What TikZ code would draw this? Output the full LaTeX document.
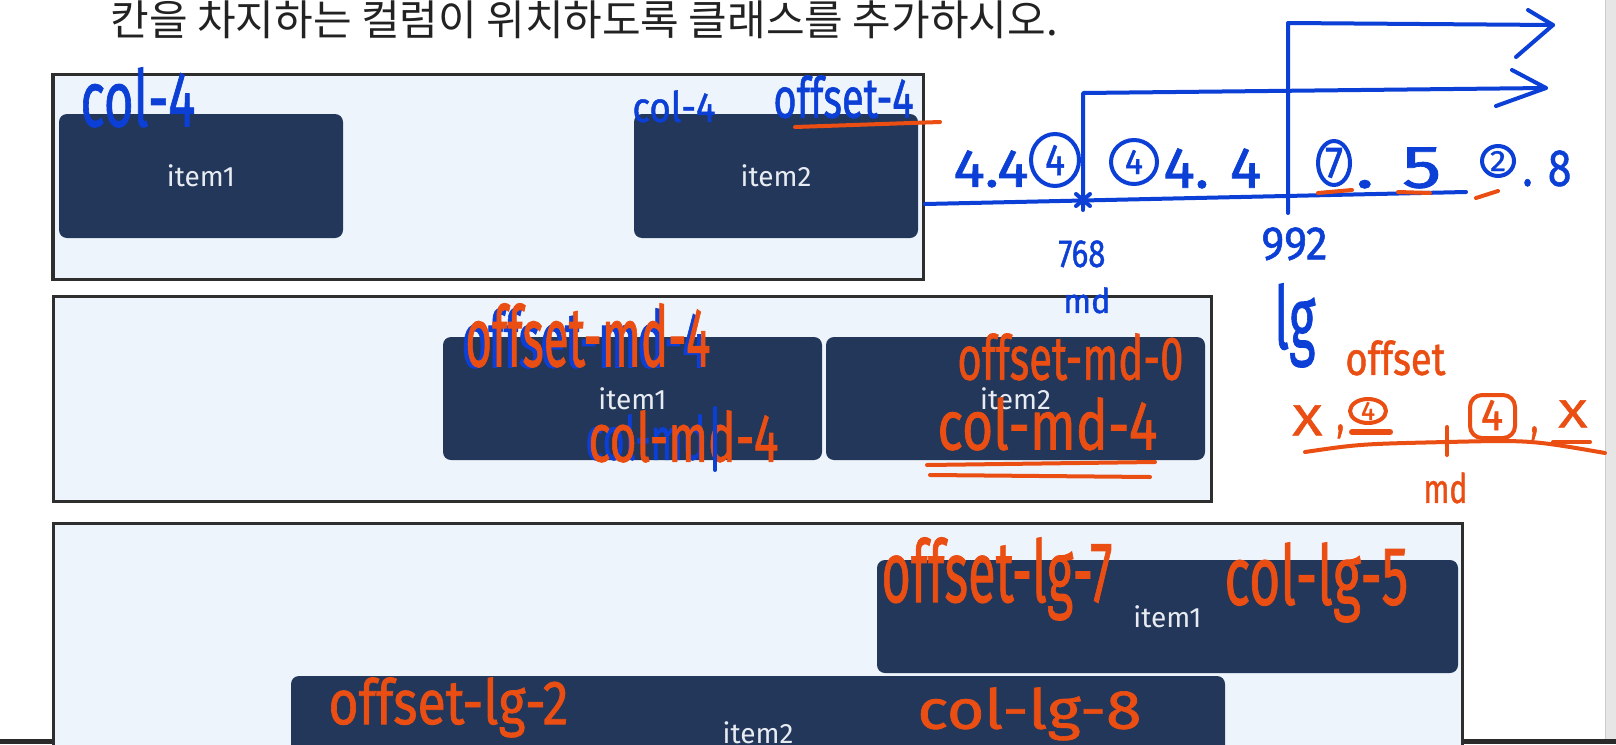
\documentclass[tikz,border=0pt]{standalone}
\usepackage{fontspec}
\setmainfont{Fira Sans}
\newfontfamily\krfont{Noto Sans CJK KR}
\newfontfamily\hwfont{Fira Sans}[FakeBold=1.2]
\usetikzlibrary{calc}
\definecolor{contbg}{HTML}{EDF4FC}
\definecolor{framec}{HTML}{2E2E2E}
\definecolor{itemc}{HTML}{22375A}
\definecolor{itemtxt}{HTML}{E8ECF2}
\definecolor{inkblue}{HTML}{0B3FD6}
\definecolor{inkor}{HTML}{EA4E12}
\definecolor{barc}{HTML}{2A2A2A}
\definecolor{thumbc}{HTML}{4A4A4A}
\definecolor{scrollc}{HTML}{E6E6E6}
\definecolor{titlec}{HTML}{222222}
\newcommand{\hwt}[3]{\resizebox*{\dimexpr #1pt/2\relax}{\dimexpr #2pt/2\relax}{\hwfont #3}}
\tikzset{
  container/.style={draw=framec, line width=1.5pt, fill=contbg, inner sep=0pt},
  itembox/.style={fill=itemc, rounded corners=4pt, text=itemtxt, inner sep=0pt,
    font=\fontsize{14pt}{15pt}\selectfont},
  hwb/.style={inner sep=0pt, text=inkblue, anchor=north west},
  hwo/.style={inner sep=0pt, text=inkor, anchor=north west},
  inkb/.style={draw=inkblue, line width=2pt, line cap=round, line join=round},
  inko/.style={draw=inkor, line width=2pt, line cap=round, line join=round},
}
\begin{document}
\begin{tikzpicture}[x=0.5pt,y=-0.5pt]
\useasboundingbox (0,0) rectangle (1616,744);
\clip (0,0) rectangle (1616,744);
\fill[white] (0,0) rectangle (1616,744);
% scrollbar and bottom bar
\fill[scrollc] (1605,0) rectangle (1616,739);
\draw[gray!40, line width=0.5pt] (1605,0) -- (1605,739);
\fill[barc] (0,739) rectangle (1616,744);
\fill[thumbc] (59,739) rectangle (118,744);

% title
\node[anchor=base west, inner sep=0pt, text=titlec,
  font=\krfont\fontsize{21pt}{22pt}\selectfont] (title) at (110,35)
  {칸을 차지하는 컬럼이 위치하도록 클래스를 추가하시오.};

% containers
\node[container, minimum width=435pt, minimum height=102.5pt] (row1) at (488.5,177) {};
\node[container, minimum width=579pt, minimum height=102.5pt] (row2) at (632.5,399) {};
\node[container, minimum width=704.5pt, minimum height=138.5pt] (row3) at (757.5,661.5) {};
\draw[framec, line width=1pt] (row1.north west) -- (row1.south west);

% items
\node[itembox, minimum width=142pt, minimum height=62pt] (r1i1) at (201,176) {item1};
\node[itembox, minimum width=142pt, minimum height=62pt] (r1i2) at (776,176) {item2};
\node[itembox, minimum width=189.5pt, minimum height=61.5pt] (r2i1) at (632.5,398.5) {item1};
\node[itembox, minimum width=189.5pt, minimum height=61.5pt] (r2i2) at (1015.5,398.5) {item2};
\node[itembox, minimum width=290.5pt, minimum height=56.5pt] (r3i1) at (1167.5,616.5) {item1};
\node[itembox, minimum width=467pt, minimum height=56.5pt] (r3i2) at (758,732.5) {item2};

% ---- row 1 annotations
\node[hwb] (a1) at (80,67) {\hwt{115}{60}{col-4}};
\node[hwb] (a2) at (632,90) {\hwt{83}{32}{col-4}};
\node[hwb] (a3) at (773,75) {\hwt{140}{43}{offset-4}};
\coordinate (u1a) at (795,127);
\coordinate (u1b) at (940,122);
\draw[inko] (u1a) -- (u1b);

% ---- breakpoint axis
\coordinate (ax0) at (925,204);
\coordinate (ax1) at (1466,192);
\draw[inkb] (ax0) -- (ax1);
\coordinate (md0) at (1083,208);
\coordinate (md1) at (1083,93);
\coordinate (md2) at (1546,88);
\draw[inkb] (md0) -- (md1) -- (md2);
\coordinate (mh1) at (1512,70);
\coordinate (mh2) at (1496,106);
\draw[inkb] (mh1) -- (md2) -- (mh2);
\coordinate (lg0) at (1288,213);
\coordinate (lg1) at (1288,23);
\coordinate (lg2) at (1553,25);
\draw[inkb] (lg0) -- (lg1) -- (lg2);
\coordinate (lh1) at (1528,10);
\coordinate (lh2) at (1516,57);
\draw[inkb] (lh1) -- (lg2) -- (lh2);
% star mark at 768
\coordinate (st) at (1083,200);
\draw[inkb] ($(st)+(-7,-6)$) -- ($(st)+(7,6)$);
\draw[inkb] ($(st)+(-7,6)$) -- ($(st)+(7,-6)$);
\draw[inkb] ($(st)+(0,-8)$) -- ($(st)+(0,10)$);

\node[hwb] (b1) at (953,150) {\hwt{75}{37}{4.4}};
\node[hwb, anchor=center] (c1) at (1055,160) {\hwt{20}{30}{4}};
\draw[inkb] (c1.center) ellipse [x radius=12pt, y radius=13pt];
\node[hwb, anchor=center] (c2) at (1134,162) {\hwt{18}{24}{4}};
\draw[inkb] (c2.center) ellipse [x radius=11.5pt, y radius=11pt];
\node[hwb] (b2) at (1163,148) {\hwt{98}{40}{4. 4}};
\node[hwb, anchor=center] (c3) at (1334,163) {\hwt{18}{30}{7}};
\draw[inkb] (c3.center) ellipse [x radius=8pt, y radius=11pt];
\node[hwb] (b3) at (1355,147) {\hwt{86}{41}{. 5}};
\node[hwb, anchor=center] (c4) at (1498,161) {\hwt{16}{20}{2}};
\draw[inkb] (c4.center) ellipse [x radius=8pt, y radius=7.5pt];
\node[hwb] (b4) at (1522,150) {\hwt{49}{36}{. 8}};
% orange dashes under digits
\coordinate (d1a) at (1318,193); \coordinate (d1b) at (1352,190);
\draw[inko] (d1a) -- (d1b);
\coordinate (d2a) at (1398,192); \coordinate (d2b) at (1430,193);
\draw[inko] (d2a) -- (d2b);
\coordinate (d3a) at (1476,198); \coordinate (d3b) at (1498,191);
\draw[inko] (d3a) -- (d3b);

\node[hwb] (n768) at (1058,240) {\hwt{47}{27}{768}};
\node[hwb] (nmd) at (1063,287) {\hwt{47}{26}{md}};
\node[hwb] (n992) at (1261,227) {\hwt{66}{33}{992}};
\node[hwb] (nlg) at (1274,283) {\hwt{41}{84}{lg}};

% ---- row 2 annotations
\node[hwb] (e1b) at (461,308) {\hwt{245}{60}{offset-md-4}};
\node[hwo] (e1) at (465,303) {\hwt{245}{64}{offset-md-4}};
\node[hwb] (e2b) at (585,414) {\hwt{120}{46}{col-md}};
\node[hwo] (e2) at (588,410) {\hwt{190}{52}{col-md-4}};
\coordinate (bl1) at (715,408); \coordinate (bl2) at (715,470);
\draw[inkb] (bl1) -- (bl2);
\node[hwo] (e3) at (957,333) {\hwt{226}{47}{offset-md-0}};
\node[hwo] (e4) at (937,397) {\hwt{220}{53}{col-md-4}};
\coordinate (w1a) at (927,465); \coordinate (w1b) at (1155,462);
\coordinate (w2a) at (930,475); \coordinate (w2b) at (1150,477);
\draw[inko] (w1a) -- (w1b);
\draw[inko] (w2a) -- (w2b);

% ---- right orange note
\node[hwo] (f1) at (1345,340) {\hwt{100}{35}{offset}};
\node[hwo] (f2) at (1292,405) {\hwt{30}{30}{X}};
\node[hwo] (f3) at (1336,424) {\hwt{8}{14}{,}};
\node[hwo, anchor=center] (f4) at (1368,411) {\hwt{14}{18}{4}};
\draw[inko] (f4.center) ellipse [x radius=9pt, y radius=6pt];
\coordinate (s1a) at (1352,432); \coordinate (s1b) at (1390,432);
\draw[inko, line width=3pt] (s1a) -- (s1b);
\node[hwo, anchor=center] (f5) at (1492,415) {\hwt{22}{30}{4}};
\draw[inko, rounded corners=6pt] (1470,395) rectangle (1515,438);
\node[hwo] (f6) at (1530,426) {\hwt{8}{14}{,}};
\node[hwo] (f7) at (1558,400) {\hwt{29}{27}{X}};
\coordinate (x1a) at (1553,442); \coordinate (x1b) at (1590,442);
\draw[inko] (x1a) -- (x1b);
\coordinate (cv0) at (1305,452);
\coordinate (cv1) at (1447,442);
\coordinate (cv2) at (1605,453);
\draw[inko] (cv0) .. controls (1360,444) .. (cv1) .. controls (1530,440) .. (cv2);
\coordinate (tk1) at (1447,427); \coordinate (tk2) at (1447,455);
\draw[inko] (tk1) -- (tk2);
\node[hwo] (f8) at (1423,472) {\hwt{44}{31}{md}};

% ---- row 3 annotations
\node[hwo] (g1) at (881,537) {\hwt{231}{83}{offset-lg-7}};
\node[hwo] (g2) at (1224,542) {\hwt{184}{80}{col-lg-5}};
\node[hwo] (g3) at (328,677) {\hwt{240}{60}{offset-lg-2}};
\node[hwo] (g4) at (917,687) {\hwt{224}{53}{col-lg-8}};
\end{tikzpicture}
\end{document}
